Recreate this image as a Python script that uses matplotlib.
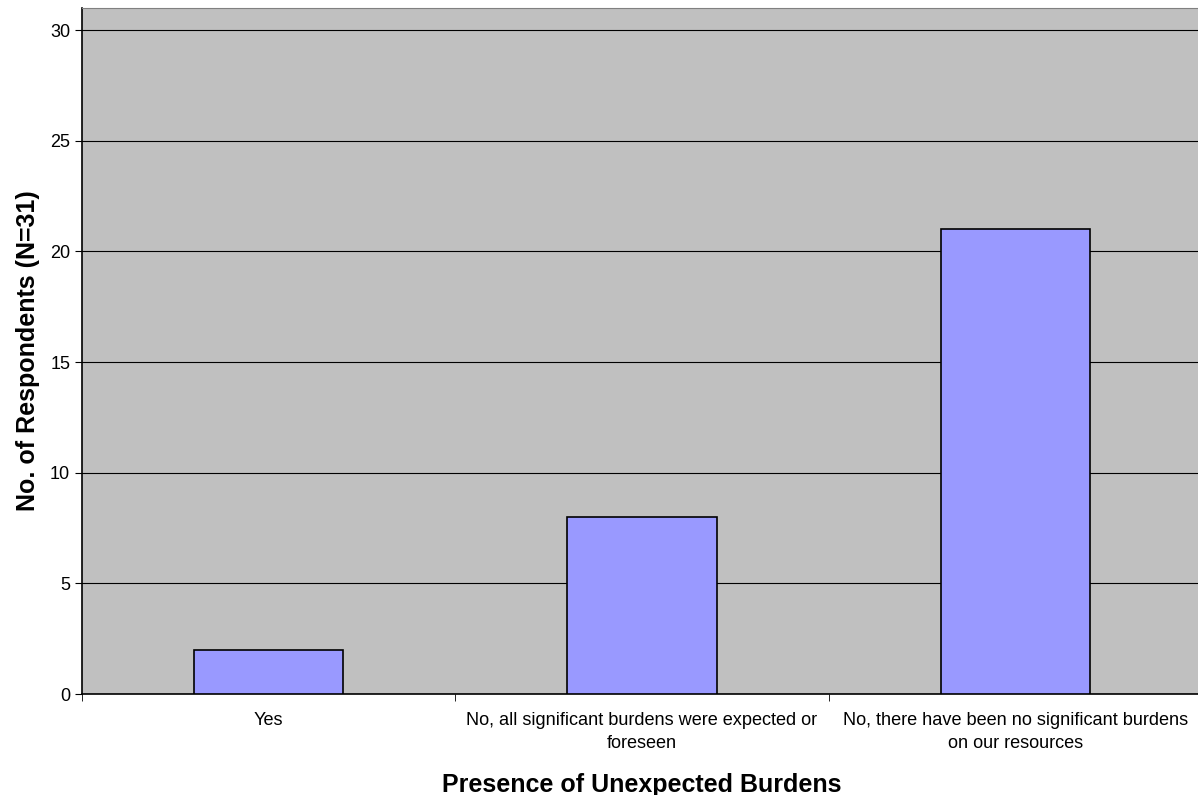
import numpy as np
import matplotlib.pyplot as plt

plt.rcParams['font.family'] = ['Liberation Sans', 'DejaVu Sans']

# данные
categories = ["Yes",
              "No, all significant burdens were expected or\nforeseen",
              "No, there have been no significant burdens\non our resources"]
counts = [2, 8, 21]
yticks = [0, 5, 10, 15, 20, 25, 30]

fig = plt.figure(figsize=(11.98, 7.95), dpi=100)
# правый край области графика выходит за пределы картинки, как в оригинале
ax = fig.add_axes([0.0684, 0.127, 0.935, 0.863])
ax.set_facecolor('#C0C0C0')

x = np.arange(len(categories))
ax.bar(x, counts, width=0.4, color='#9999FF', edgecolor='black', linewidth=1.2, zorder=3)

ax.set_xlim(-0.5, len(categories) - 0.5)
ax.set_ylim(0, 31)
ax.set_yticks(yticks)
ax.yaxis.grid(True, color='black', linewidth=0.8, zorder=1)

# подписи категорий без рисок, риски на границах
ax.set_xticks(x)
ax.set_xticklabels(categories, fontsize=13.1, linespacing=1.45)
ax.tick_params(axis='x', length=0, pad=13)
ax.set_xticks(np.arange(-0.5, len(categories)), minor=True)
ax.tick_params(axis='x', which='minor', length=5, color='black')
ax.tick_params(axis='y', labelsize=13, length=5, direction='out')

for side in ['top', 'right']:
    ax.spines[side].set_color('#808080')
ax.spines['left'].set_linewidth(1.2)
ax.spines['bottom'].set_linewidth(1.2)

ax.set_ylabel("No. of Respondents (N=31)", fontsize=18, fontweight='bold', labelpad=7)
ax.set_xlabel("Presence of Unexpected Burdens", fontsize=18, fontweight='bold', labelpad=15)

fig.savefig("out.png", dpi=100)
